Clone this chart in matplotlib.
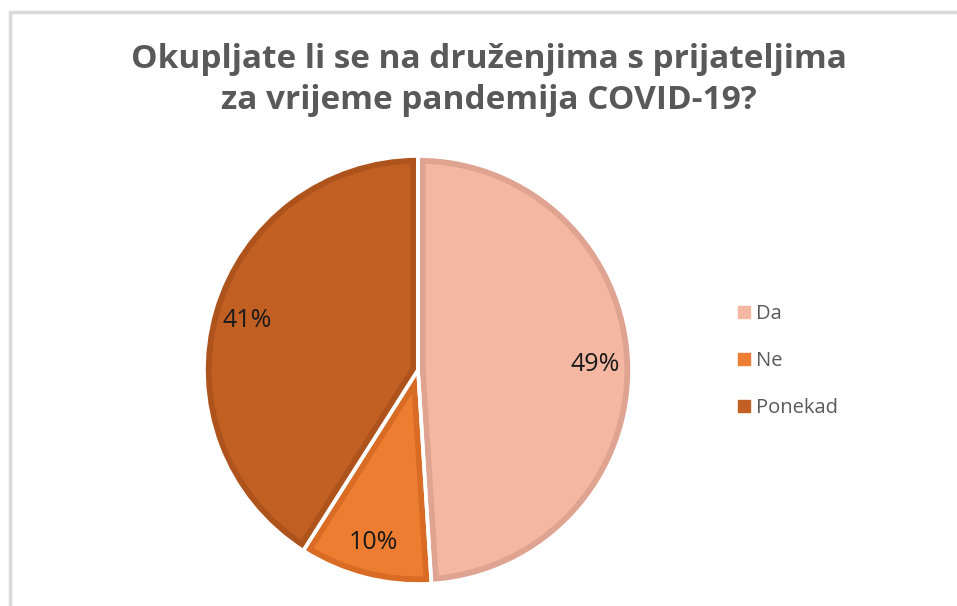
import matplotlib
matplotlib.use("Agg")
import matplotlib.pyplot as plt
from matplotlib.patches import Rectangle, Wedge
from matplotlib.lines import Line2D

title = "Okupljate li se na druženjima s prijateljima\nza vrijeme pandemija COVID-19?"
categories = ["Da", "Ne", "Ponekad"]
values = [49, 10, 41]
fills = ["#F4B7A1", "#ED7D31", "#C26024"]
edges = ["#DFA491", "#D96C25", "#AE531C"]

W, H = 957, 606
fig = plt.figure(figsize=(W / 100, H / 100), dpi=100)
fig.patch.set_facecolor("white")

# chart border
fig.add_artist(Rectangle((9.5 / W, -0.05), 1.1, (H - 11.5) / H + 0.05,
                         transform=fig.transFigure, fill=False,
                         edgecolor="#D9D9D9", linewidth=2.5))

cx, cy, r = 418, 370, 214
ax = fig.add_axes([(cx - r) / W, (H - cy - r) / H, 2 * r / W, 2 * r / H])

wedges, texts, autotexts = ax.pie(values, colors=fills, startangle=90,
                                  counterclock=False, radius=1,
                                  autopct="%d%%", pctdistance=0.83,
                                  textprops=dict(fontsize=18, color="#1a1a1a",
                                                 family="Open Sans"),
                                  wedgeprops=dict(linewidth=0))
for w, ec in zip(wedges, edges):
    clip = Wedge(w.center, w.r, w.theta1, w.theta2, transform=ax.transData)
    w.set_edgecolor(ec)
    w.set_linewidth(11)
    w.set_clip_path(clip)
    w.set_clip_on(True)

# white separators
ax.pie(values, colors=["none"] * 3, startangle=90, counterclock=False,
       radius=1, wedgeprops=dict(linewidth=2.6, edgecolor="white"))

ax.set_xlim(-1, 1)
ax.set_ylim(-1, 1)
ax.set_aspect("equal")
ax.axis("off")

fig.text(489 / W, 1 - 80 / H, title, ha="center", va="center",
         fontsize=24, fontweight="bold", color="#595959",
         family="Open Sans", linespacing=1.3)

handles = [Line2D([], [], marker="s", linestyle="none", markersize=8,
                  markerfacecolor=f, markeredgecolor=f) for f in fills]
leg = fig.legend(handles, categories, loc="center left",
                 bbox_to_anchor=(714 / W, 1 - 361 / H), frameon=False,
                 labelspacing=1.36, handletextpad=0.0,
                 handlelength=1.2, prop=dict(family="Open Sans", size=14.5))
for t in leg.get_texts():
    t.set_color("#595959")

fig.savefig("out.png", dpi=100)
